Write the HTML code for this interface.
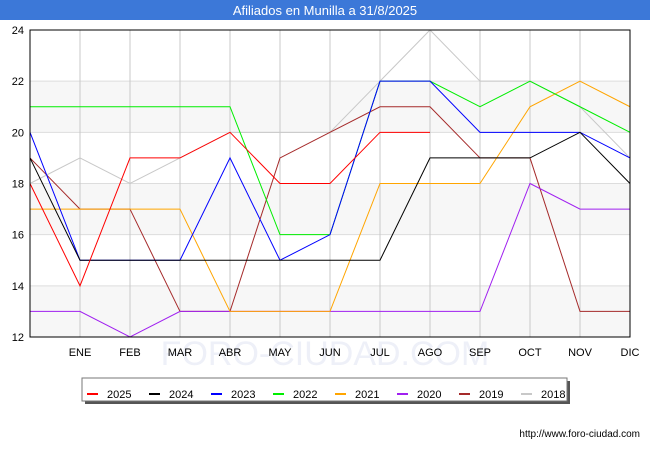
<!DOCTYPE html>
<html><head><meta charset="utf-8"><style>
body{margin:0;background:#fff;font-family:"Liberation Sans","DejaVu Sans",sans-serif}
#wrap{position:relative;width:650px;height:450px;overflow:hidden}
</style></head><body>
<div id="wrap">
<svg id="chart" width="650" height="450" xmlns="http://www.w3.org/2000/svg">
<rect x="0" y="0" width="650" height="450" fill="#fff"/>
<rect x="0" y="0" width="650" height="20" fill="#3c78d8"/>
<text x="325" y="15" text-anchor="middle" font-size="13" fill="#fff">Afiliados en Munilla a 31/8/2025</text>
<g id="grid"></g>
<text x="325" y="365" text-anchor="middle" font-size="34" fill="#eef0f8">FORO-CIUDAD.COM</text>
<g id="series"></g>
<rect x="30" y="30" width="600" height="307" fill="none" stroke="#000" stroke-width="1"/>
<g id="axes"></g>
<rect x="85" y="381" width="485" height="23" fill="#555"/>
<rect x="82" y="378" width="485" height="23" fill="#fff" stroke="#777"/>
<g id="legend"></g>
<text x="640" y="437" text-anchor="end" font-size="10" fill="#000">http://www.foro-ciudad.com</text>
</svg>
</div>
<script>
const months = ["", "ENE","FEB","MAR","ABR","MAY","JUN","JUL","AGO","SEP","OCT","NOV","DIC"];
const yTicks = [12,14,16,18,20,22,24];
const seriesNames = ["2018","2019","2020","2021","2022","2023","2024","2025"];
const seriesColors = ["#c8c8c8","#a52a2a","#a020f0","#ffa500","#00ee00","#0000ff","#000000","#ff0000"];
const s2018 = [18,19,18,19,20,20,20,22,24,22,22,21,19];
const s2019 = [19,17,17,13,13,19,20,21,21,19,19,13,13];
const s2020 = [13,13,12,13,13,13,13,13,13,13,18,17,17];
const s2021 = [17,17,17,17,13,13,13,18,18,18,21,22,21];
const s2022 = [21,21,21,21,21,16,16,22,22,21,22,21,20];
const s2023 = [20,15,15,15,19,15,16,22,22,20,20,20,19];
const s2024 = [19,15,15,15,15,15,15,15,19,19,19,20,18];
const s2025 = [18,14,19,19,20,18,18,20,20];
const seriesData = [s2018,s2019,s2020,s2021,s2022,s2023,s2024,s2025];

const NS="http://www.w3.org/2000/svg";
const X0=30,X1=630,Y0=337,Y1=30,YMIN=12,YMAX=24;
const xs=i=>X0+i*(X1-X0)/12;
const ys=v=>Y0-(v-YMIN)*(Y0-Y1)/(YMAX-YMIN);
function mk(tag,attrs){const e=document.createElementNS(NS,tag);for(const k in attrs)e.setAttribute(k,attrs[k]);return e;}
const grid=document.getElementById('grid'),axes=document.getElementById('axes'),ser=document.getElementById('series'),leg=document.getElementById('legend');
for(let i=0;i<yTicks.length-1;i++){
  if(i%2===0){const r=mk('rect',{x:X0,y:ys(yTicks[i+1]),width:X1-X0,height:ys(yTicks[i])-ys(yTicks[i+1]),fill:'#f7f7f7'});
  
  
  grid.appendChild(r);}
}
yTicks.forEach(v=>{
  const l=mk('line',{x1:X0,x2:X1,y1:ys(v),y2:ys(v),stroke:'#dddddd','stroke-width':1});
  
  
  grid.appendChild(l);
  const t=mk('text',{x:X0-6,y:ys(v)+4,'text-anchor':'end','font-size':11});
  t.textContent=v;
  
  
  axes.appendChild(t);
});
months.forEach((m,i)=>{
  if(i===0)return;
  const l=mk('line',{x1:xs(i),x2:xs(i),y1:Y1,y2:Y0,stroke:'#c8c8c8','stroke-width':1});
  
  
  grid.appendChild(l);
  const t=mk('text',{x:xs(i),y:356,'text-anchor':'middle','font-size':11});
  t.textContent=m;
  
  
  axes.appendChild(t);
});
seriesData.forEach((d,k)=>{
  const p=mk('polyline',{points:d.map((v,i)=>xs(i)+','+ys(v)).join(' '),fill:'none',stroke:seriesColors[k],'stroke-width':1});
  
  
  ser.appendChild(p);
});
const order=[7,6,5,4,3,2,1,0];
order.forEach((k,j)=>{
  const x=87+j*62;
  const l=mk('line',{x1:x,x2:x+11,y1:394,y2:394,stroke:seriesColors[k],'stroke-width':2});
  
  
  leg.appendChild(l);
  const t=mk('text',{x:x+20,y:398,'font-size':11});
  t.textContent=seriesNames[k];
  
  
  leg.appendChild(t);
});
</script>
</body></html>
